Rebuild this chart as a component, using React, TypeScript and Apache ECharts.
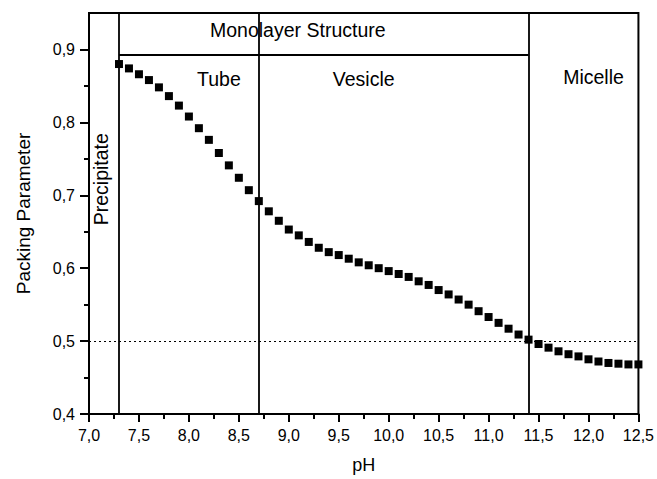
import React, { useEffect, useRef } from "react";
import * as echarts from "echarts";

const phValues = [
  7.3, 7.4, 7.5, 7.6, 7.7, 7.8, 7.9, 8.0, 8.1, 8.2, 8.3, 8.4, 8.5, 8.6, 8.7, 8.8, 8.9,
  9.0, 9.1, 9.2, 9.3, 9.4, 9.5, 9.6, 9.7, 9.8, 9.9, 10.0, 10.1, 10.2, 10.3, 10.4, 10.5,
  10.6, 10.7, 10.8, 10.9, 11.0, 11.1, 11.2, 11.3, 11.4, 11.5, 11.6, 11.7, 11.8, 11.9,
  12.0, 12.1, 12.2, 12.3, 12.4, 12.5,
];
const packingValues = [
  0.88, 0.874, 0.866, 0.858, 0.848, 0.836, 0.823, 0.808, 0.792, 0.776, 0.758, 0.741,
  0.724, 0.707, 0.692, 0.678, 0.665, 0.653, 0.645, 0.636, 0.628, 0.622, 0.618, 0.613,
  0.608, 0.604, 0.6, 0.596, 0.592, 0.588, 0.582, 0.577, 0.57, 0.564, 0.557, 0.55,
  0.541, 0.533, 0.525, 0.517, 0.509, 0.502, 0.496, 0.491, 0.486, 0.482, 0.479, 0.475,
  0.472, 0.47, 0.469, 0.468, 0.468,
];
const yMajorTicks = [0.4, 0.5, 0.6, 0.7, 0.8, 0.9];
const yMinorTicks = [0.45, 0.55, 0.65, 0.75, 0.85];
const phaseBoundaries = [7.3, 8.7, 11.4];
const monolayerLine = { from: 7.3, to: 11.4, y: 0.893 };
const referenceLevel = 0.5;
const regionLabels = [
  { text: "Monolayer Structure", x: 9.09, y: 0.926, rotate: 0 },
  { text: "Tube", x: 8.3, y: 0.859, rotate: 0 },
  { text: "Vesicle", x: 9.75, y: 0.859, rotate: 0 },
  { text: "Micelle", x: 12.05, y: 0.862, rotate: 0 },
  { text: "Precipitate", x: 7.12, y: 0.722, rotate: 90 },
];

const FONT = "'Liberation Sans', Arial, Helvetica, sans-serif";
const fmt = (v: number) => v.toFixed(1).replace(".", ",");

export default function App() {
  const ref = useRef<HTMLDivElement>(null);
  useEffect(() => {
    if (!ref.current) return;
    const chart = echarts.init(ref.current, undefined, { renderer: "svg" });
    const data = phValues.map((x, i) => [x, packingValues[i]]);
    const line = { color: "#000", width: 2 };
    const option: any = {
      animation: false,
      backgroundColor: "#fff",
      grid: {
        left: 89,
        right: 17,
        top: 13,
        bottom: 62,
        show: true,
        borderColor: "#000",
        borderWidth: 2,
        backgroundColor: "transparent",
      },
      xAxis: {
        type: "value",
        min: 7,
        max: 12.5,
        interval: 0.5,
        name: "pH",
        nameLocation: "middle",
        nameGap: 42,
        nameTextStyle: { fontFamily: FONT, fontSize: 18, color: "#000" },
        axisLine: { show: true, lineStyle: line },
        axisTick: { show: true, length: 8, lineStyle: line },
        minorTick: { show: true, splitNumber: 2, length: 5, lineStyle: line },
        splitLine: { show: false },
        minorSplitLine: { show: false },
        axisLabel: {
          formatter: (v: number) => fmt(v),
          fontFamily: FONT,
          fontSize: 16,
          color: "#000",
          margin: 13,
        },
      },
      yAxis: [
        {
          type: "value",
          min: 0.4,
          max: 0.95,
          name: "Packing Parameter",
          nameLocation: "middle",
          nameGap: 56,
          nameTextStyle: { fontFamily: FONT, fontSize: 19, color: "#000" },
          axisLine: { show: true, lineStyle: line },
          axisTick: { show: true, length: 9, customValues: yMajorTicks, lineStyle: line },
          splitLine: { show: false },
          axisLabel: {
            customValues: yMajorTicks,
            formatter: (v: number) => fmt(v),
            fontFamily: FONT,
            fontSize: 16,
            color: "#000",
            margin: 14,
          },
        },
        {
          type: "value",
          min: 0.4,
          max: 0.95,
          position: "left",
          axisLine: { show: false },
          axisTick: { show: true, length: 5, customValues: yMinorTicks, lineStyle: line },
          axisLabel: { show: false },
          splitLine: { show: false },
        },
      ],
      series: [
        {
          type: "scatter",
          data,
          symbol: "rect",
          symbolSize: 8,
          itemStyle: { color: "#000", opacity: 1 },
          z: 5,
          markLine: {
            silent: true,
            symbol: "none",
            label: { show: false },
            animation: false,
            data: [
              ...phaseBoundaries.map((x) => ({
                xAxis: x,
                lineStyle: { color: "#000", width: 1.8, type: "solid" },
              })),
              [
                {
                  coord: [monolayerLine.from, monolayerLine.y],
                  lineStyle: { color: "#000", width: 1.8, type: "solid" },
                },
                { coord: [monolayerLine.to, monolayerLine.y] },
              ],
              {
                yAxis: referenceLevel,
                lineStyle: { color: "#000", width: 1.2, type: [2, 3] },
              },
            ],
          },
        },
      ],
    };
    chart.setOption(option);
    const graphics = regionLabels.map((l) => {
      const [px, py] = chart.convertToPixel({ gridIndex: 0 }, [l.x, l.y]) as number[];
      return {
        type: "text",
        x: px,
        y: py,
        rotation: (l.rotate * Math.PI) / 180,
        style: {
          text: l.text,
          fontFamily: FONT,
          fontSize: 19.5,
          fill: "#000",
          align: "center",
          verticalAlign: "middle",
        },
        z: 10,
      };
    });
    chart.setOption({ graphic: graphics });
    return () => chart.dispose();
  }, []);
  return <div ref={ref} style={{ width: 657, height: 479, position: "absolute", left: 0, top: 0 }} />;
}
